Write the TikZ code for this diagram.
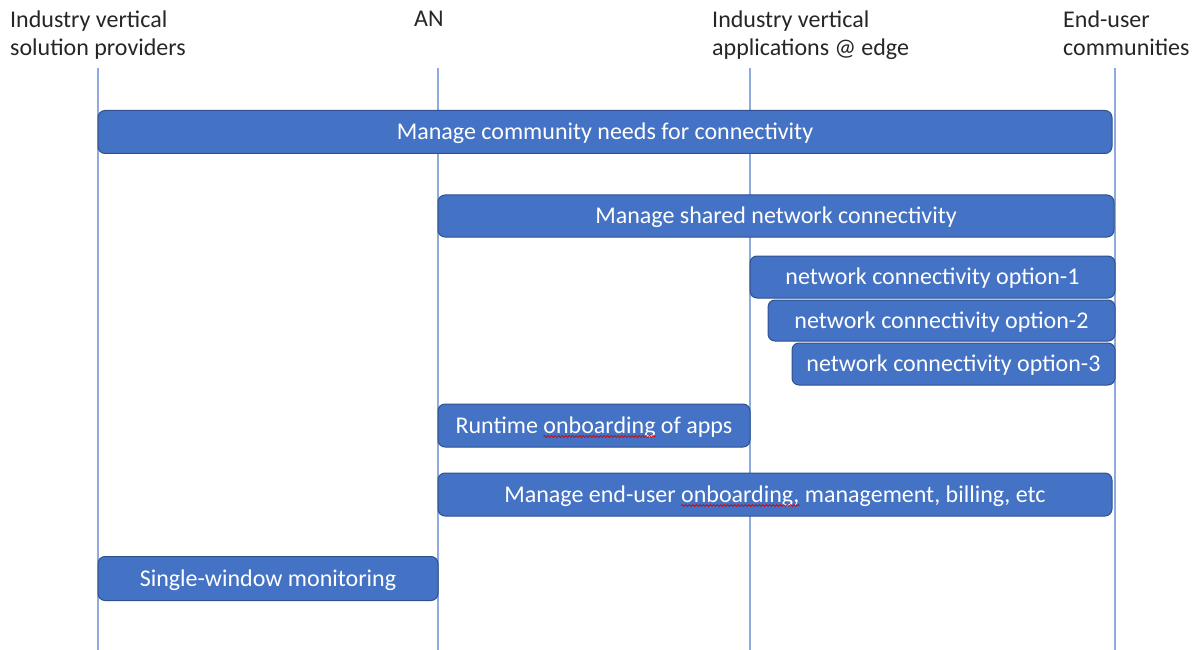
\documentclass[tikz,border=0pt]{standalone}
\usepackage{fontspec}
\setmainfont{Carlito}
\usetikzlibrary{calc,decorations.pathmorphing}
\newcommand\taskfont{\fontsize{24}{28}\selectfont}
\newlength\wpreA \newlength\wwordA \newlength\wallA
\newlength\wpreB \newlength\wwordB \newlength\wallB
\settowidth{\wpreA}{\taskfont Runtime }
\settowidth{\wwordA}{\taskfont onboarding}
\settowidth{\wallA}{\taskfont Runtime onboarding of apps}
\settowidth{\wpreB}{\taskfont Manage end-user }
\settowidth{\wwordB}{\taskfont onboarding,}
\settowidth{\wallB}{\taskfont Manage end-user onboarding, management, billing, etc}
\definecolor{lifeblue}{HTML}{8FAADC}
\definecolor{taskfill}{HTML}{4472C4}
\definecolor{taskborder}{HTML}{2F528F}
\definecolor{headtext}{HTML}{262626}
\tikzset{
  lifeline/.style={draw=lifeblue, line width=1.5pt},
  task/.style={draw=taskborder, fill=taskfill, rounded corners=7pt, text=white,
    font=\taskfont, inner sep=0pt, line width=1pt, text height=20pt, text depth=5pt},
  header/.style={anchor=north west, inner sep=0pt, align=left, text=headtext,
    font=\fontsize{24}{28}\selectfont},
  squig/.style={draw=red!85!black, line width=0.7pt, decorate,
    decoration={snake, amplitude=1pt, segment length=3.5pt}}
}
\begin{document}
\begin{tikzpicture}[x=1pt,y=-1pt]
\useasboundingbox (0,0) rectangle (1200,650);
% headers
\node[header] (h1) at (10,11) {Industry vertical\\solution providers};
\node[header] (h2) at (414,11) {AN};
\node[header] (h3) at (712,11) {Industry vertical\\applications @ edge};
\node[header] (h4) at (1063,11) {End-user\\communities};
% lifelines
\coordinate (l1t) at (98,68);   \coordinate (l1b) at (98,650);
\coordinate (l2t) at (438,68);  \coordinate (l2b) at (438,650);
\coordinate (l3t) at (750,68);  \coordinate (l3b) at (750,650);
\coordinate (l4t) at (1115,68); \coordinate (l4b) at (1115,650);
\draw[lifeline] (l1t) -- (l1b);
\draw[lifeline] (l2t) -- (l2b);
\draw[lifeline] (l3t) -- (l3b);
\draw[lifeline] (l4t) -- (l4b);
% tasks
\node[task, minimum width=1014pt, minimum height=43pt] (t1) at (605,132) {Manage community needs for connectivity};
\node[task, minimum width=676pt, minimum height=42pt] (t2) at (776,216) {Manage shared network connectivity};
\node[task, minimum width=365pt, minimum height=42pt] (o1) at (932.5,277) {network connectivity option-1};
\node[task, minimum width=347pt, minimum height=41pt] (o2) at (941.5,320.5) {network connectivity option-2};
\node[task, minimum width=323pt, minimum height=42pt] (o3) at (953.5,364) {network connectivity option-3};
\node[task, minimum width=312pt, minimum height=43pt] (t3) at (594,425.5) {Runtime onboarding of apps};
\node[task, minimum width=674pt, minimum height=43pt] (t4) at (775,494.5) {Manage end-user onboarding, management, billing, etc};
\node[task, minimum width=340pt, minimum height=44pt] (t5) at (268,578.5) {Single-window monitoring};
% spell-check squiggles
\coordinate (sA) at ($(t3.base)+(-0.5\wallA+\wpreA,-3.5pt)$);
\coordinate (sB) at ($(t4.base)+(-0.5\wallB+\wpreB,-3.5pt)$);
\draw[squig] (sA) -- ++(\wwordA,0pt);
\draw[squig] (sB) -- ++(\wwordB,0pt);
\end{tikzpicture}
\end{document}
